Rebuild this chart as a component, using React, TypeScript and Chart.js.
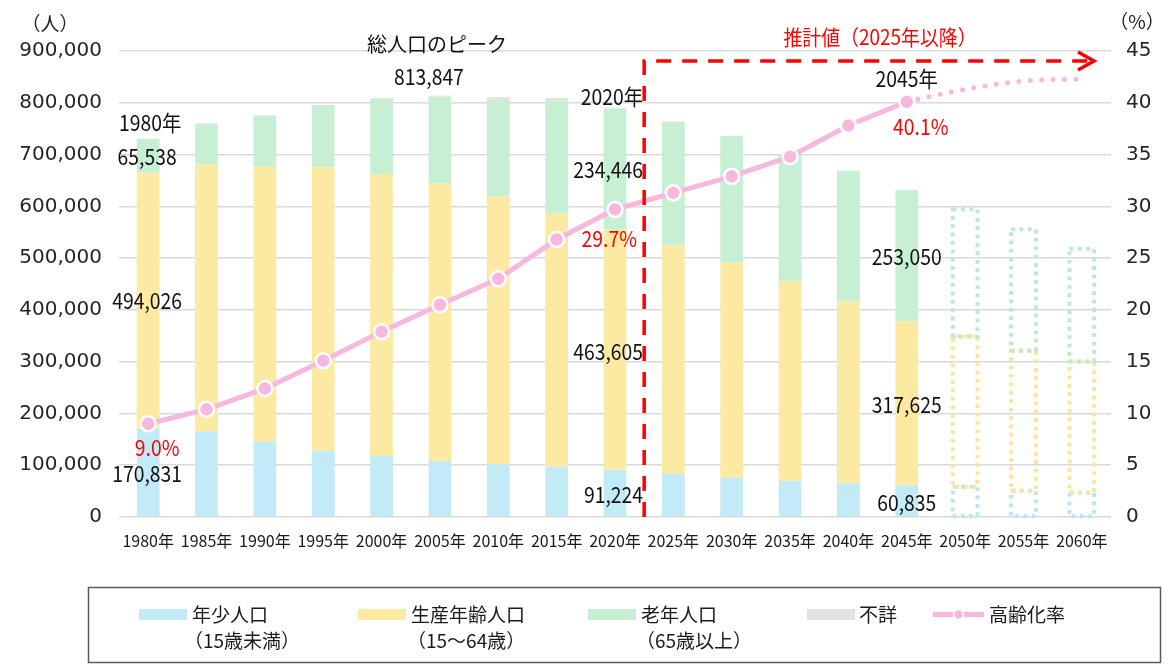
import React, { useEffect, useRef } from "react";
import { Chart, registerables } from "chart.js";

Chart.register(...registerables);

// ---- data ----
const years = ["1980年", "1985年", "1990年", "1995年", "2000年", "2005年", "2010年", "2015年", "2020年", "2025年", "2030年", "2035年", "2040年", "2045年", "2050年", "2055年", "2060年"];
const young = [170831, 165000, 145500, 128100, 117300, 108200, 102400, 97200, 91224, 83700, 75900, 70100, 65100, 60835, 58500, 50800, 47000];
const working = [494026, 516000, 532200, 547600, 545000, 535300, 516500, 488300, 463605, 440600, 416800, 384500, 350900, 317625, 289900, 270500, 253100];
const elderly = [65538, 79200, 97800, 119800, 144900, 168347, 186900, 219000, 234446, 239600, 243500, 245400, 252600, 253050, 246200, 234600, 217800];
const unknown = [0, 0, 0, 0, 1500, 2000, 5200, 4600, 0, 0, 0, 0, 0, 0, 0, 0, 0];
const agingRate = [9.0, 10.4, 12.4, 15.1, 17.9, 20.5, 23.0, 26.8, 29.7, 31.3, 32.9, 34.8, 37.8, 40.1, null, null, null];
const agingRateProjected = [null, null, null, null, null, null, null, null, null, null, null, null, null, 40.1, 41.3, 42.1, 42.3];
const leftTicks = [0, 100000, 200000, 300000, 400000, 500000, 600000, 700000, 800000, 900000];
const rightTicks = [0, 5, 10, 15, 20, 25, 30, 35, 40, 45];
const projectionStart = 14; // 2050年 onward drawn as dotted outlines
const estimateBoundary = 8.5; // between 2020年 and 2025年

const BLUE = "#C2EAF7";
const YELLOW = "#FDEAA2";
const GREEN = "#C6EFD3";
const GRAY = "#E2E2E2";
const PINK = "#F8B8DE";
const RED = "#FF0000";
const DOT_BLUE = "#B8E6F5";
const DOT_YELLOW = "#FCE59A";
const DOT_GREEN = "#BCEBCB";
const JP = '"Noto Sans CJK JP", "Noto Sans", sans-serif';

function txt(ctx: CanvasRenderingContext2D, s: string, x: number, y: number, size: number, color: string, align: CanvasTextAlign = "center", sx = 0.88) {
  ctx.save();
  ctx.font = `${size}px ${JP}`;
  ctx.fillStyle = color;
  ctx.textAlign = align;
  ctx.textBaseline = "middle";
  ctx.translate(x, y);
  ctx.scale(sx, 1);
  ctx.fillText(s, 0, 0);
  ctx.restore();
}

const fmt = (v: number) => v.toLocaleString("en-US");

const overlayPlugin = {
  id: "overlay",
  afterDatasetsDraw(chart: any) {
    const ctx: CanvasRenderingContext2D = chart.ctx;
    const xs = chart.scales.x;
    const ys = chart.scales.y;
    const y1 = chart.scales.y1;
    const area = chart.chartArea;

    // dotted projected bars
    const segs = [
      { ds: 2, color: DOT_BLUE },
      { ds: 3, color: DOT_YELLOW },
      { ds: 4, color: DOT_GREEN },
    ];
    ctx.save();
    ctx.lineWidth = 4;
    ctx.setLineDash([3.8, 4.6]);
    for (const sg of segs) {
      const meta = chart.getDatasetMeta(sg.ds);
      for (let i = projectionStart; i < years.length; i++) {
        const el = meta.data[i];
        if (!el) continue;
        const p = el.getProps(["x", "y", "base", "width"], true);
        ctx.strokeStyle = sg.color;
        ctx.strokeRect(p.x - p.width / 2 - 1, p.y, p.width + 2, p.base - p.y);
      }
    }
    ctx.restore();

    // red dashed boundary for estimates
    const bx = xs.getPixelForValue(estimateBoundary);
    const topY = area.top + 10;
    const endX = area.right - 17;
    ctx.save();
    ctx.strokeStyle = RED;
    ctx.lineWidth = 3.5;
    ctx.setLineDash([15, 11]);
    ctx.beginPath();
    ctx.moveTo(bx, area.bottom);
    ctx.lineTo(bx, topY);
    ctx.lineTo(endX - 4, topY);
    ctx.stroke();
    ctx.setLineDash([]);
    ctx.beginPath();
    ctx.moveTo(endX - 16, topY - 9);
    ctx.lineTo(endX, topY);
    ctx.lineTo(endX - 16, topY + 9);
    ctx.stroke();
    ctx.restore();

    txt(ctx, "推計値（2025年以降）", 880, 37, 21, RED, "center", 0.9);

    // annotations
    const segMid = (lo: number, hi: number) => ys.getPixelForValue((lo + hi) / 2);
    const labelFor = (i: number) => {
      const a = young[i];
      const b = a + working[i];
      const c = b + elderly[i];
      return { y0: segMid(0, a), y1: segMid(a, b), y2: segMid(b, c) };
    };
    const BLACK = "#111";

    // 1980
    {
      const i = 0;
      const x = xs.getPixelForValue(i) - 1;
      const m = labelFor(i);
      txt(ctx, fmt(young[i]), x, m.y0 + 1, 22, BLACK);
      txt(ctx, fmt(working[i]), x, m.y1, 22, BLACK);
      txt(ctx, fmt(elderly[i]), x, m.y2 + 1, 22, BLACK);
      txt(ctx, years[i], x + 3, m.y2 - 33, 22, BLACK);
      txt(ctx, agingRate[i]!.toFixed(1) + "%", x + 10, y1.getPixelForValue(agingRate[i]) + 24, 22, RED);
    }
    // 2005 peak
    {
      const i = 5;
      const x = xs.getPixelForValue(i);
      const total = young[i] + working[i] + elderly[i] + unknown[i];
      txt(ctx, fmt(total), x - 11, 77, 22, BLACK);
      txt(ctx, "総人口のピーク", x - 3, 44, 20, BLACK, "center", 1);
    }
    // 2020
    {
      const i = 8;
      const rx = xs.getPixelForValue(i) + 28;
      const m = labelFor(i);
      txt(ctx, fmt(young[i]), rx, m.y0 + 1.5, 22, BLACK, "right");
      txt(ctx, fmt(working[i]), rx, m.y1 + 1.5, 22, BLACK, "right");
      txt(ctx, fmt(elderly[i]), rx, m.y2 + 1, 22, BLACK, "right");
      txt(ctx, years[i], rx, 96.5, 22, BLACK, "right");
      txt(ctx, agingRate[i]!.toFixed(1) + "%", rx - 6, y1.getPixelForValue(agingRate[i]) + 29.5, 22, RED, "right");
    }
    // 2045
    {
      const i = 13;
      const x = xs.getPixelForValue(i);
      const m = labelFor(i);
      txt(ctx, fmt(young[i]), x, m.y0 + 1, 22, BLACK);
      txt(ctx, fmt(working[i]), x, m.y1 + 1.5, 22, BLACK);
      txt(ctx, fmt(elderly[i]), x, m.y2 + 1, 22, BLACK);
      txt(ctx, years[i], x, y1.getPixelForValue(agingRate[i]) - 23, 22, BLACK);
      txt(ctx, agingRate[i]!.toFixed(1) + "%", x + 14, y1.getPixelForValue(agingRate[i]) + 25, 22, RED);
    }
  },
  afterDraw(chart: any) {
    const ctx: CanvasRenderingContext2D = chart.ctx;
    // unit labels
    txt(ctx, "（人）", 50, 24, 19, "#222", "center", 1);
    txt(ctx, "（%）", 1137, 22, 19, "#222", "center", 1);

    // legend box
    ctx.save();
    ctx.strokeStyle = "#5a5a5a";
    ctx.lineWidth = 1.5;
    ctx.strokeRect(88.5, 587.5, 1072, 75);
    ctx.restore();

    const sw = (x: number, color: string) => {
      ctx.fillStyle = color;
      ctx.fillRect(x, 609, 48, 11);
    };
    const lt = (s: string, x: number, y: number) => txt(ctx, s, x, y, 19, "#1a1a1a", "left", 1);

    sw(139, BLUE);
    lt("年少人口", 192, 615);
    lt("（15歳未満）", 184, 641);
    sw(358, YELLOW);
    lt("生産年齢人口", 411, 615);
    lt("（15～64歳）", 407, 641);
    sw(588, GREEN);
    lt("老年人口", 641, 615);
    lt("（65歳以上）", 636, 641);
    sw(807, GRAY);
    lt("不詳", 859, 615);

    ctx.save();
    ctx.strokeStyle = PINK;
    ctx.lineWidth = 5;
    ctx.beginPath();
    ctx.moveTo(933, 614.5);
    ctx.lineTo(984, 614.5);
    ctx.stroke();
    ctx.beginPath();
    ctx.arc(958.5, 614.5, 5, 0, Math.PI * 2);
    ctx.fillStyle = PINK;
    ctx.fill();
    ctx.lineWidth = 1.5;
    ctx.strokeStyle = "#fff";
    ctx.stroke();
    ctx.restore();
    lt("高齢化率", 989, 615);
  },
};

export default function App() {
  const ref = useRef<HTMLCanvasElement | null>(null);

  useEffect(() => {
    if (!ref.current) return;
    const barColor = (c: string) => (ctx: any) => (ctx.dataIndex >= projectionStart ? "rgba(0,0,0,0)" : c);
    const barCommon = {
      type: "bar" as const,
      yAxisID: "y",
      stack: "pop",
      order: 2,
      barPercentage: 0.39,
      categoryPercentage: 1,
      borderWidth: 0,
    };
    const chart = new Chart(ref.current, {
      type: "bar",
      data: {
        labels: years,
        datasets: [
          {
            type: "line",
            label: "高齢化率",
            data: agingRate as any,
            yAxisID: "y1",
            order: 0,
            borderColor: PINK,
            backgroundColor: PINK,
            borderWidth: 5,
            pointRadius: 7.5,
            pointBackgroundColor: PINK,
            pointBorderColor: "#ffffff",
            pointBorderWidth: 2.5,
            tension: 0,
            spanGaps: false,
          } as any,
          {
            type: "line",
            label: "高齢化率（推計）",
            data: agingRateProjected as any,
            yAxisID: "y1",
            order: 1,
            borderColor: PINK,
            borderWidth: 5,
            borderDash: [0, 11.4],
            borderCapStyle: "round",
            pointRadius: 0,
            cubicInterpolationMode: "monotone",
            spanGaps: false,
          } as any,
          { ...barCommon, label: "年少人口", data: young, backgroundColor: barColor(BLUE) } as any,
          { ...barCommon, label: "生産年齢人口", data: working, backgroundColor: barColor(YELLOW) } as any,
          { ...barCommon, label: "老年人口", data: elderly, backgroundColor: barColor(GREEN) } as any,
          { ...barCommon, label: "不詳", data: unknown, backgroundColor: barColor(GRAY) } as any,
        ],
      },
      options: {
        animation: false,
        responsive: false,
        devicePixelRatio: 1,
        layout: { padding: { top: 51, left: 0, right: 0, bottom: 0 } },
        plugins: { legend: { display: false }, tooltip: { enabled: false }, title: { display: false } },
        scales: {
          x: {
            stacked: true,
            grid: { display: false, drawTicks: false },
            border: { display: false },
            ticks: { color: "#1a1a1a", font: { family: JP, size: 16 }, padding: 14, maxRotation: 0, autoSkip: false },
            afterFit: (s: any) => { s.height = 147; },
          },
          y: {
            type: "linear",
            position: "left",
            stacked: true,
            min: leftTicks[0],
            max: leftTicks[leftTicks.length - 1],
            afterBuildTicks: (s: any) => { s.ticks = leftTicks.map((v) => ({ value: v })); },
            grid: { color: "#D9D9D9", lineWidth: 1.6, drawTicks: false },
            border: { display: false },
            ticks: { color: "#262626", font: { family: '"DejaVu Sans", sans-serif', size: 20 }, padding: 17, callback: (v: any) => fmt(Number(v)) },
            afterFit: (s: any) => { s.width = 119; },
          },
          y1: {
            type: "linear",
            position: "right",
            min: rightTicks[0],
            max: rightTicks[rightTicks.length - 1],
            afterBuildTicks: (s: any) => { s.ticks = rightTicks.map((v) => ({ value: v })); },
            grid: { display: false, drawTicks: false },
            border: { display: false },
            ticks: { color: "#262626", font: { family: '"DejaVu Sans", sans-serif', size: 20 }, padding: 15, callback: (v: any) => String(v) },
            afterFit: (s: any) => { s.width = 57; },
          },
        },
      },
      plugins: [overlayPlugin],
    });
    return () => chart.destroy();
  }, []);

  return (
    <div style={{ position: "fixed", left: 0, top: 0, width: 1168, height: 664, background: "#fff" }}>
      <canvas ref={ref} width={1168} height={664} style={{ width: 1168, height: 664, display: "block" }} />
    </div>
  );
}
